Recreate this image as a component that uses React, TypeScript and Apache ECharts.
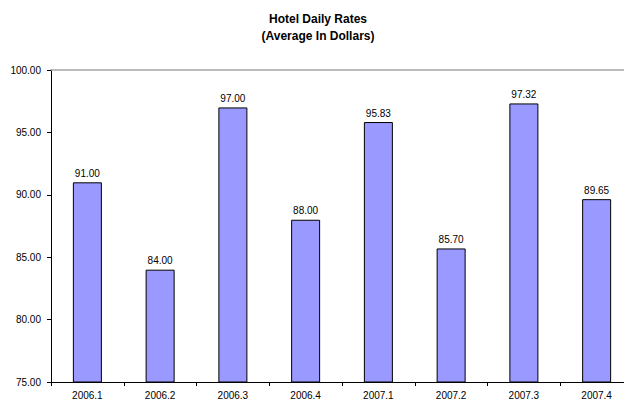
import React, { useEffect, useRef } from "react";
import * as echarts from "echarts";

const categories = ["2006.1", "2006.2", "2006.3", "2006.4", "2007.1", "2007.2", "2007.3", "2007.4"];
const rates = [91.0, 84.0, 97.0, 88.0, 95.83, 85.7, 97.32, 89.65];
const titleLines = ["Hotel Daily Rates", "(Average In Dollars)"];

export default function App() {
  const ref = useRef<HTMLDivElement>(null);
  useEffect(() => {
    if (!ref.current) return;
    const chart = echarts.init(ref.current, undefined, { renderer: "svg" });
    const font = "'Liberation Sans', Arial, sans-serif";
    const titleStyle = {
      fontFamily: font,
      fontSize: 12,
      fontWeight: "bold" as const,
      color: "#000",
    };
    chart.setOption({
      animation: false,
      backgroundColor: "#ffffff",
      title: {
        text: titleLines[0],
        subtext: titleLines[1],
        left: 318,
        textAlign: "center",
        top: 13,
        padding: 0,
        itemGap: 5,
        textStyle: titleStyle,
        subtextStyle: titleStyle,
      },
      grid: {
        left: 51,
        top: 70,
        height: 312,
        width: 582,
        containLabel: false,
        outerBoundsMode: "none",
      },
      xAxis: [
        {
          type: "category",
          data: categories,
          position: "bottom",
          axisLine: { show: true, lineStyle: { color: "#000", width: 1 } },
          axisTick: { show: true, length: 4, lineStyle: { color: "#000" } },
          axisLabel: { fontFamily: font, fontSize: 10, color: "#000", margin: 8 },
        },
        {
          type: "category",
          data: categories,
          position: "top",
          axisLine: { show: true, lineStyle: { color: "#a6a6a6", width: 1.5 } },
          axisTick: { show: false },
          axisLabel: { show: false },
        },
      ],
      yAxis: {
        type: "value",
        min: 75,
        max: 100,
        interval: 5,
        axisLine: { show: true, lineStyle: { color: "#000", width: 1 } },
        axisTick: { show: true, length: 4, lineStyle: { color: "#000" } },
        splitLine: { show: false },
        axisLabel: {
          fontFamily: font,
          fontSize: 10,
          color: "#000",
          margin: 10,
          formatter: (v: number) => v.toFixed(2),
        },
      },
      series: [
        {
          type: "bar",
          data: rates,
          barWidth: 29,
          itemStyle: { color: "#9999ff", borderColor: "#000", borderWidth: 1 },
          label: {
            show: true,
            position: "top",
            distance: 4,
            fontFamily: font,
            fontSize: 10,
            color: "#000",
            formatter: (p: any) => Number(p.value).toFixed(2),
          },
        },
      ],
    });
    return () => chart.dispose();
  }, []);
  return <div ref={ref} style={{ width: 624, height: 401, position: "absolute", left: 0, top: 0 }} />;
}
